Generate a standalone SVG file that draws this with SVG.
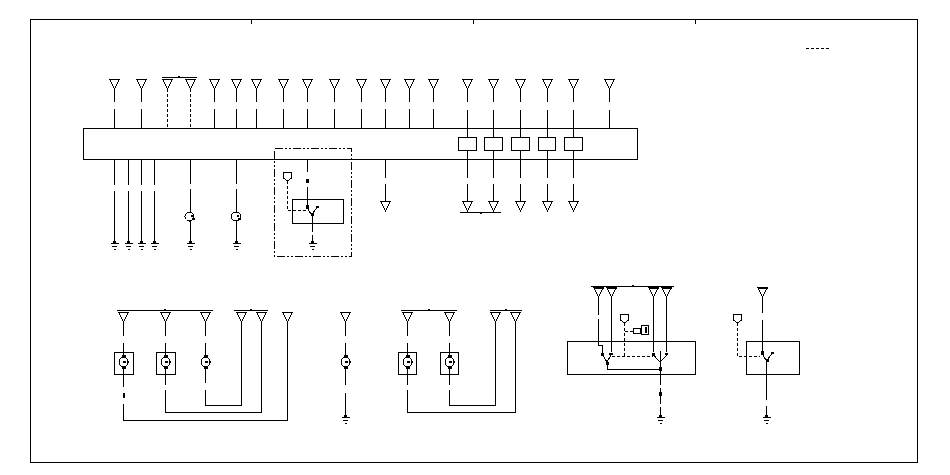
<svg xmlns="http://www.w3.org/2000/svg" xmlns:xlink="http://www.w3.org/1999/xlink" width="950" height="475" viewBox="0 0 950 475">
<style>
svg{background:#fff}
*{shape-rendering:crispEdges}
.l{fill:none;stroke:#000;stroke-width:1}
.d{fill:none;stroke:#000;stroke-width:1;stroke-dasharray:3 2}
.dd{fill:none;stroke:#000;stroke-width:1;stroke-dasharray:8 2 2 2 2 2}
.t{fill:#fff;stroke:#000;stroke-width:1}
.k{fill:#000;stroke:none}
</style>
<defs>
<g id="tri"><path class="t" d="M-5 0H5L0 10Z"/></g>
<g id="triH"><path class="t" d="M-5 0H5L0 10Z"/><path class="k" d="M-5 0H5V1.500H-5Z"/></g>
<g id="gnd"><path class="l" d="M-4 0.500H4M-2.500 3.500H2.500M-1 6H1M0 -6V0"/><path class="k" d="M-1.500 -2H1.500V0H-1.500Z"/></g>
<g id="mot"><circle class="t" cx="0" cy="0" r="4.500"/><path class="k" d="M-2 -7H2V-4H-2ZM-2 4H2V7H-2ZM-1 -1H2V1H-1ZM4 -1H5V1H4Z"/></g>
<g id="mot2"><circle class="t" cx="0" cy="0" r="4.500"/><path class="k" d="M1 -2H3V0H1ZM2 1H5V3H2Z"/></g>
<g id="conn"><path class="t" d="M-4 0H4V6L0 9L-4 6Z"/></g>
<g id="sw"><path class="k" d="M-1.500 -3H1.500V1H-1.500ZM8 -2.500H11V0H8ZM3 5H6V8H3Z"/><path class="l" d="M0 0L4 7L9 0"/></g>
</defs>
<g id="frame">
<rect class="l" x="30.500" y="19.500" width="887" height="443"/>
<path class="l" d="M251.500 19V24M473.500 19V24M695.500 19V24"/>
<path class="d" d="M806 48.500H829"/>
</g>
<g id="connectors">
<path class="l" d="M114.500 89V102M114.500 109V128M141.500 89V102M141.500 109V128M214.500 89V102M214.500 109V128M236.500 89V102M236.500 109V128M256.500 89V102M256.500 109V128M283.500 89V102M283.500 109V128M307.500 89V102M307.500 109V128M334.500 89V102M334.500 109V128M361.500 89V102M361.500 109V128M385.500 89V102M385.500 109V128M409.500 89V102M409.500 109V128M433.500 89V102M433.500 109V128M467.500 89V102M467.500 110V137M493.500 89V102M493.500 110V137M520.500 89V102M520.500 110V137M547.500 89V102M547.500 110V137M573.500 89V102M573.500 110V137M609.500 89V102M609.500 110V128"/>
<path class="d" d="M167.500 89V128M190.500 89V128"/>
<path class="l" d="M162 77.500H197M178 76.500H180"/>
<path class="l" d="M114.500 159V185M114.500 191V237M128.500 159V185M128.500 191V237M141.500 159V185M141.500 191V237M154.500 159V185M154.500 191V237M190.500 159V184M190.500 189V237M236.500 159V184M236.500 189V237"/>
<path class="l" d="M385.500 159V178M385.500 184V201M467.500 150V178M467.500 184V201M493.500 150V178M493.500 184V201M520.500 150V178M520.500 184V201M547.500 150V178M547.500 184V201M573.500 150V178M573.500 184V201"/>
<path class="l" d="M460 212.500H501M480 213.500H482"/>
<path class="l" d="M123.500 322V336M123.500 343V387M123.500 404V420.500H287.500V322M165.500 322V336M165.500 343V385M165.500 390V412.500H261.500V322M205.500 322V336M205.500 343V383M205.500 390V405.500H241.500V322M345.500 322V336M345.500 343V385M345.500 393V411"/>
<path class="l" d="M117 310.500H213M164 309.500H166M234 310.500H268M250 309.500H252"/>
<path class="k" d="M122.500 393H125V398H122.500Z"/>
<path class="l" d="M407.500 322V336M407.500 343V385M407.500 390V412.500H515.500V322M449.500 322V336M449.500 343V385M449.500 390V405.500H495.500V322"/>
<path class="l" d="M401 310.500H457M428 309.500H430M490 310.500H522M505 309.500H507"/>
<path class="l" d="M591 286.500H674M632 285.500H634"/>
<path class="l" d="M598.500 297V315M598.500 319V345.500H602.500V355M611.500 297V352M653.500 297V352M666.500 297V352"/>
<path class="d" d="M624.500 323V356.500M612 356.500H653M624.500 331.500H633"/>
<path class="l" d="M607.500 362V369.500H660.500M660.500 351V385M660.500 388V404M660.500 407V411"/>
<path class="l" d="M762.500 297V313M762.500 320V351M766.500 362V400M766.500 406V411"/>
<path class="d" d="M737.500 323V356.500H760"/>
</g>
<g id="main-unit">
<rect class="l" x="83.500" y="128.500" width="554" height="31"/>
<rect class="t" x="458.500" y="137.500" width="18" height="13"/>
<rect class="t" x="484.500" y="137.500" width="18" height="13"/>
<rect class="t" x="511.500" y="137.500" width="18" height="13"/>
<rect class="t" x="538.500" y="137.500" width="17" height="13"/>
<rect class="t" x="564.500" y="137.500" width="18" height="13"/>
</g>
<g id="top-terminals">
<use href="#tri" x="114.500" y="79"/><use href="#tri" x="141.500" y="79"/><use href="#tri" x="167.500" y="79"/><use href="#tri" x="190.500" y="79"/><use href="#tri" x="214.500" y="79"/><use href="#tri" x="236.500" y="79"/><use href="#tri" x="256.500" y="79"/><use href="#tri" x="283.500" y="79"/><use href="#tri" x="307.500" y="79"/><use href="#tri" x="334.500" y="79"/><use href="#tri" x="361.500" y="79"/><use href="#tri" x="385.500" y="79"/><use href="#tri" x="409.500" y="79"/><use href="#tri" x="433.500" y="79"/><use href="#tri" x="467.500" y="79"/><use href="#tri" x="493.500" y="79"/><use href="#tri" x="520.500" y="79"/><use href="#tri" x="547.500" y="79"/><use href="#tri" x="573.500" y="79"/><use href="#tri" x="609.500" y="79"/>
</g>
<g id="bottom-terminals">
<use href="#tri" x="385.500" y="201"/><use href="#tri" x="467.500" y="201"/><use href="#tri" x="493.500" y="201"/><use href="#tri" x="520.500" y="201"/><use href="#tri" x="547.500" y="201"/><use href="#tri" x="573.500" y="201"/>
</g>
<g id="grounds-top">
<use href="#gnd" x="114.500" y="243"/><use href="#gnd" x="128.500" y="243"/><use href="#gnd" x="141.500" y="243"/><use href="#gnd" x="154.500" y="243"/><use href="#gnd" x="190.500" y="243"/><use href="#gnd" x="236.500" y="243"/>
</g>
<g id="lamps">
<use href="#mot2" x="189.500" y="216.500"/><use href="#mot2" x="236" y="216.500"/>
</g>
<g id="dashed-module">
<rect class="dd" x="274.500" y="148.500" width="77" height="108"/>
<rect class="l" x="292.500" y="199.500" width="51" height="24"/>
<path class="l" d="M307.500 159V172M307.500 187V208M312.500 216V232M312.500 235V237"/>
<path class="k" d="M306 179H309V183H306Z"/>
<use href="#conn" x="287.500" y="172"/>
<path class="d" d="M287.500 181V210.500H307"/>
<use href="#sw" x="307.500" y="208"/>
<use href="#gnd" x="312.500" y="243"/>
</g>
<g id="motors-left">
<use href="#tri" x="123.500" y="312"/><use href="#tri" x="165.500" y="312"/><use href="#tri" x="205.500" y="312"/><use href="#tri" x="241.500" y="312"/><use href="#tri" x="261.500" y="312"/><use href="#tri" x="287.500" y="312"/>
<rect class="l" x="114.500" y="352.500" width="19" height="22"/>
<rect class="l" x="156.500" y="352.500" width="19" height="22"/>
<use href="#mot" x="123.500" y="362"/><use href="#mot" x="165.500" y="362"/><use href="#mot" x="205.500" y="362"/>
</g>
<g id="motor-single">
<use href="#tri" x="345.500" y="312"/>
<use href="#mot" x="345.500" y="362"/>
<use href="#gnd" x="345.500" y="417"/>
</g>
<g id="motors-mid">
<use href="#tri" x="407.500" y="312"/><use href="#tri" x="449.500" y="312"/><use href="#tri" x="495.500" y="312"/><use href="#tri" x="515.500" y="312"/>
<rect class="l" x="398.500" y="352.500" width="18" height="22"/>
<rect class="l" x="440.500" y="352.500" width="18" height="22"/>
<use href="#mot" x="407.500" y="362"/><use href="#mot" x="449.500" y="362"/>
</g>
<g id="switch-double">
<use href="#triH" x="598.500" y="287"/><use href="#triH" x="611.500" y="287"/><use href="#triH" x="653.500" y="287"/><use href="#triH" x="666.500" y="287"/>
<rect class="l" x="567.500" y="341.500" width="128" height="33"/>
<use href="#conn" x="624.500" y="314"/>
<path class="t" d="M633.500 328.500H640.500V333.500H633.500Z"/>
<rect class="t" x="641.500" y="325.500" width="7" height="9"/>
<path class="k" d="M645 327H647V333H645Z"/>
<path class="k" d="M601 353H604V356H601ZM609 353H612.500V355H609ZM652 353H655V356H652ZM665 353H668V355H665ZM659 367H662V371H659ZM659 392H662V396H659ZM606 362H609V365H606Z"/>
<path class="l" d="M602.500 355L607 362L611 355M653.500 355L660 362L667 355"/>
<use href="#gnd" x="660.500" y="417"/>
</g>
<g id="switch-single">
<use href="#triH" x="762.500" y="287"/>
<use href="#conn" x="737.500" y="314"/>
<rect class="l" x="746.500" y="341.500" width="53" height="33"/>
<use href="#sw" x="762.500" y="354"/>
<use href="#gnd" x="766.500" y="417"/>
</g>
</svg>
